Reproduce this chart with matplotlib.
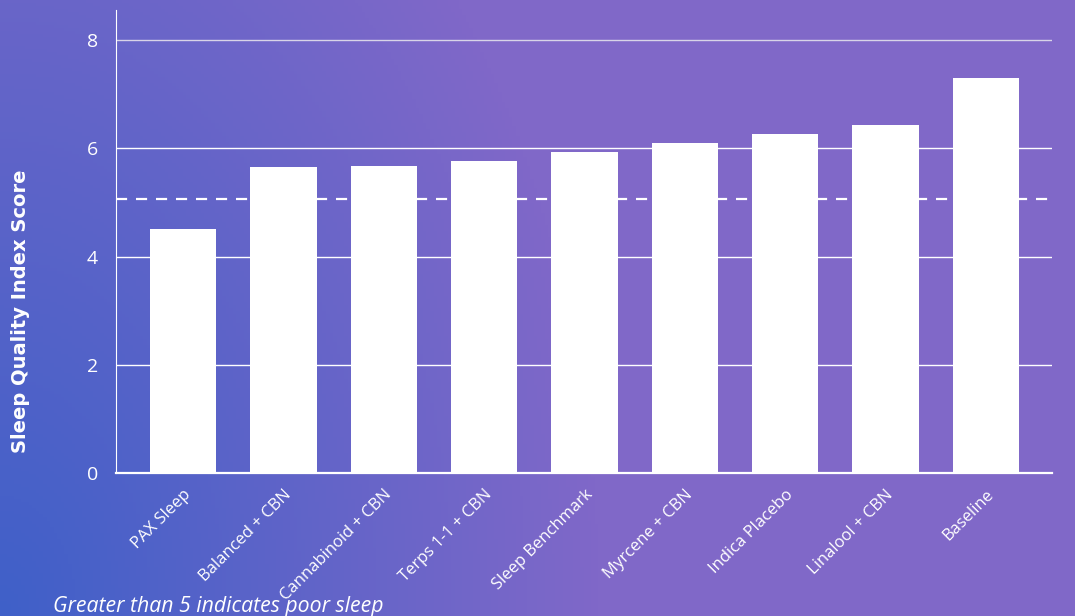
import numpy as np
import matplotlib.pyplot as plt
from matplotlib.colors import LinearSegmentedColormap

# Data
products = ['PAX Sleep', 'Balanced + CBN', 'Cannabinoid + CBN', 'Terps 1-1 + CBN',
            'Sleep Benchmark', 'Myrcene + CBN', 'Indica Placebo', 'Linalool + CBN', 'Baseline']
scores = [4.51, 5.66, 5.67, 5.77, 5.93, 6.10, 6.27, 6.43, 7.30]
threshold = 5.07
y_ticks = [0, 2, 4, 6, 8]

plt.rcParams['font.family'] = ['Open Sans', 'DejaVu Sans']

fig = plt.figure(figsize=(10.75, 6.16), dpi=100)

# gradient background: blue in the lower left, purple elsewhere
bg = fig.add_axes([0, 0, 1, 1], zorder=-10)
xx, yy = np.meshgrid(np.linspace(0, 1, 300), np.linspace(0, 1, 200))
t = np.clip(1 - np.sqrt((xx / 0.56) ** 2 + (yy / 1.55) ** 2), 0, 1)
cmap = LinearSegmentedColormap.from_list('bg', ['#8068c8', '#3f60c8'])
bg.imshow(t, cmap=cmap, origin='lower', aspect='auto', extent=[0, 1, 0, 1])
bg.axis('off')

ax = fig.add_axes([0.1079, 0.2321, 0.8707, 0.7517])
ax.patch.set_alpha(0)

x = np.arange(len(products))
ax.bar(x, scores, width=0.66, color='white', zorder=3)
ax.axhline(threshold, color='white', linestyle=(0, (5, 4)), linewidth=1.6, zorder=2)

ax.set_xlim(-0.67, 8.66)
ax.set_ylim(0, 8.56)
ax.set_yticks(y_ticks)
ax.yaxis.grid(True, color='white', linewidth=1)
ax.get_ygridlines()[-1].set_color('#d8d4e8')
ax.set_axisbelow(True)

for s in ['top', 'right']:
    ax.spines[s].set_visible(False)
ax.spines['left'].set_color('white')
ax.spines['bottom'].set_color('white')
ax.spines['bottom'].set_linewidth(1.6)
ax.tick_params(length=0, colors='white')
ax.tick_params(axis='y', labelsize=14, pad=13)

ax.set_xticks(x)
ax.set_xticklabels(products, rotation=45, ha='right', rotation_mode='anchor',
                   fontsize=12, color='white')
ax.tick_params(axis='x', pad=10)

fig.text(0.019, 0.494, 'Sleep Quality Index Score', rotation=90, color='white',
         fontsize=14, fontweight='bold', family='DejaVu Sans',
         ha='center', va='center')
fig.text(0.049, 0.016, 'Greater than 5 indicates poor sleep', color='white',
         fontsize=15.3, fontstyle='italic', ha='left', va='center')

fig.savefig('out.png', dpi=100)
